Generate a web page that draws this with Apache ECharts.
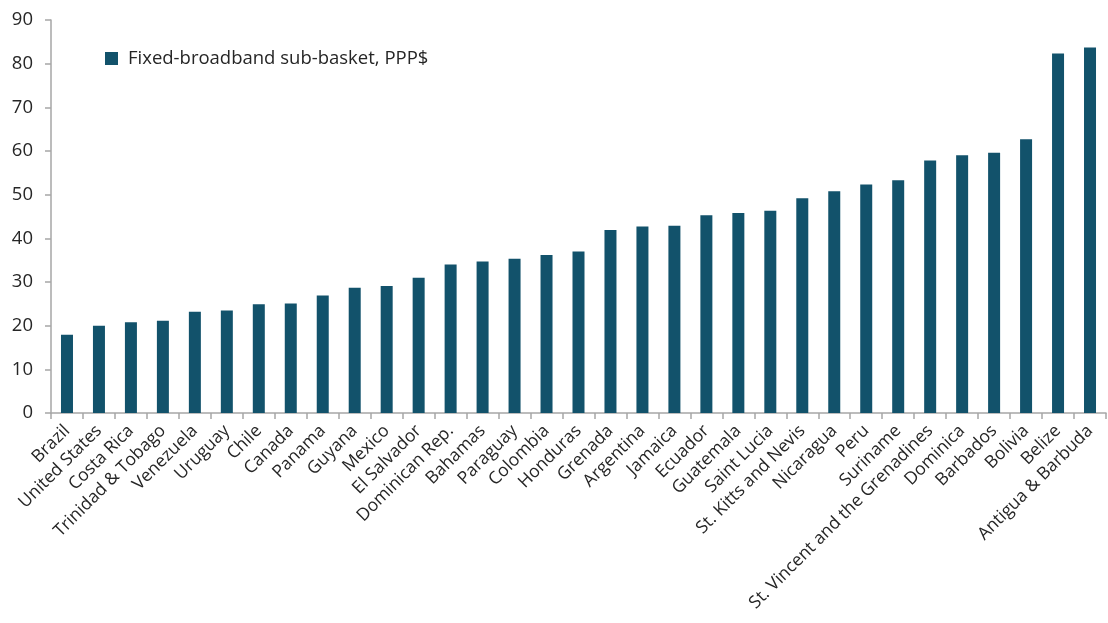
<!DOCTYPE html>
<html>
<head>
<meta charset="utf-8">
<script src="https://cdn.jsdelivr.net/npm/echarts@6/dist/echarts.min.js"></script>
<style>
html,body{margin:0;padding:0;background:#fff;}
#chart{width:1108px;height:623px;}
</style>
</head>
<body>
<div id="chart"></div>
<script>
const categories = ["Brazil","United States","Costa Rica","Trinidad & Tobago","Venezuela","Uruguay","Chile","Canada","Panama","Guyana","Mexico","El Salvador","Dominican Rep.","Bahamas","Paraguay","Colombia","Honduras","Grenada","Argentina","Jamaica","Ecuador","Guatemala","Saint Lucia","St. Kitts and Nevis","Nicaragua","Peru","Suriname","St. Vincent and the Grenadines","Dominica","Barbados","Bolivia","Belize","Antigua & Barbuda"];
const values = [17.9,20.0,20.8,21.1,23.2,23.5,24.9,25.1,26.9,28.7,29.1,31.0,34.0,34.7,35.3,36.2,37.0,41.9,42.7,42.9,45.3,45.8,46.3,49.2,50.8,52.3,53.3,57.8,59.0,59.6,62.7,82.3,83.7];
const seriesName = "Fixed-broadband sub-basket, PPP$";

const chart = echarts.init(document.getElementById('chart'));
const font = '"Open Sans", "Noto Sans", sans-serif';
chart.setOption({
  animation: false,
  textStyle: {fontFamily: font},
  legend: {
    data: [seriesName],
    left: 105, top: 49, padding: 0,
    icon: 'rect', itemWidth: 13, itemHeight: 13,
    textStyle: {fontFamily: font, fontSize: 18.5, color: '#262626', padding: [0, 0, 0, 5]}
  },
  grid: {left: 51, right: 2, top: 20, bottom: 210, containLabel: false},
  xAxis: {
    type: 'category',
    data: categories,
    boundaryGap: true,
    axisLine: {lineStyle: {color: '#a6a6a6', width: 1.5}},
    axisTick: {show: true, alignWithLabel: false, length: 6, lineStyle: {color: '#a6a6a6', width: 1.5}},
    axisLabel: {rotate: 45, interval: 0, fontFamily: font, fontSize: 17.5, color: '#262626', margin: 15}
  },
  yAxis: {
    type: 'value',
    min: 0, max: 90, interval: 10,
    splitLine: {show: false},
    axisLine: {show: true, lineStyle: {color: '#a6a6a6', width: 1.5}},
    axisTick: {show: true, length: 6, lineStyle: {color: '#a6a6a6', width: 1.5}},
    axisLabel: {fontFamily: font, fontSize: 18.5, color: '#262626', margin: 18}
  },
  series: [{
    name: seriesName,
    type: 'bar',
    data: values,
    barWidth: 12,
    itemStyle: {color: '#12526b'}
  }]
});
</script>
</body>
</html>
